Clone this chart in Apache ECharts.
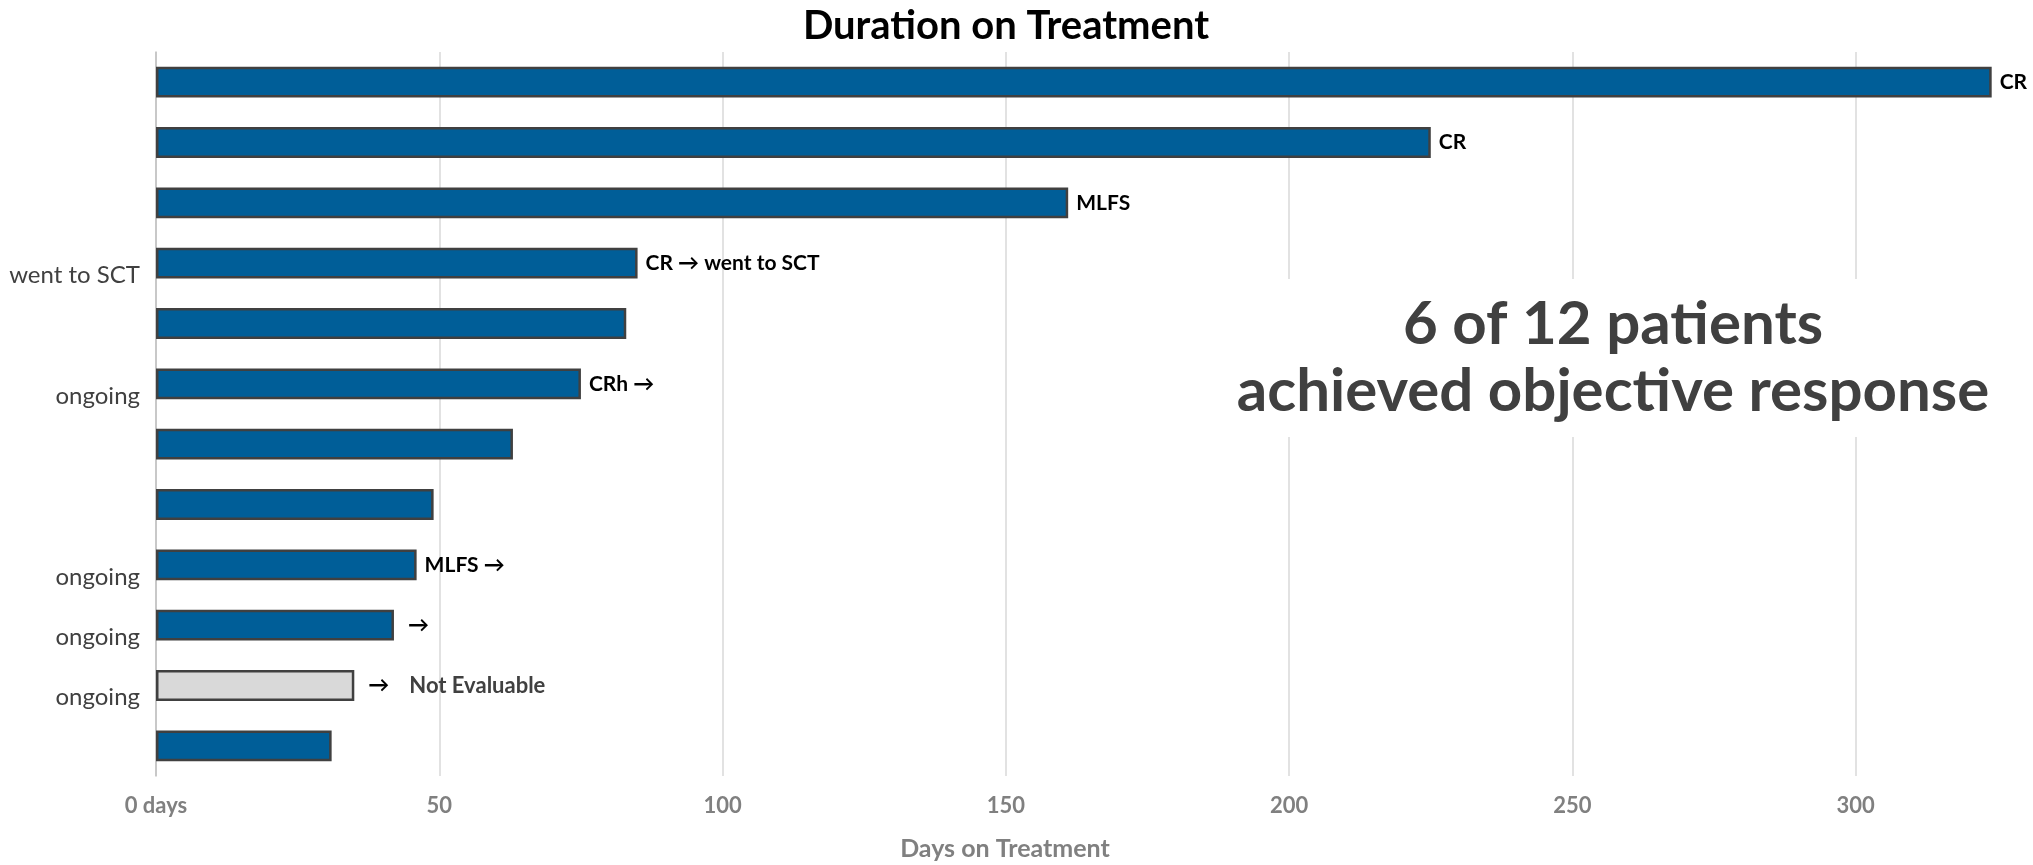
<!DOCTYPE html>
<html>
<head>
<meta charset="utf-8">
<script src="https://cdn.jsdelivr.net/npm/echarts@6/dist/echarts.min.js"></script>
<style>
  html, body { margin: 0; padding: 0; background: #fff; }
  #chart { width: 2033px; height: 865px; }
</style>
</head>
<body>
<div id="chart"></div>
<script>
// Patients, top to bottom
const patients = ['Pt 1', 'Pt 2', 'Pt 3', 'Pt 4', 'Pt 5', 'Pt 6', 'Pt 7', 'Pt 8', 'Pt 9', 'Pt 10', 'Pt 11', 'Pt 12'];
// Days on treatment per patient
const daysOnTreatment = [324, 225, 161, 85, 83, 75, 63, 49, 46, 42, 35, 31];
// Status shown to the left of each bar
const statusLabels = ['', '', '', 'went to SCT', '', 'ongoing', '', '', 'ongoing', 'ongoing', 'ongoing', ''];
// Response shown at the end of each bar
const responseLabels = ['CR', 'CR', 'MLFS', 'CR \u2192 went to SCT', '', 'CRh \u2192', '', '', 'MLFS \u2192', '\u2192', '\u2192', ''];
// Response evaluability
const evaluable = [true, true, true, true, true, true, true, true, true, true, false, true];
// Axis ticks
const xTicks = [0, 50, 100, 150, 200, 250, 300];
const xTickLabels = ['0 days', '50', '100', '150', '200', '250', '300'];

const FONT = 'Lato, "Open Sans", "DejaVu Sans", sans-serif';
const BLUE = '#005E98';
const GREY_FILL = '#D9D9D9';

const barData = daysOnTreatment.map((v, i) => {
  const lbl = responseLabels[i];
  const arrowOnly = lbl === '\u2192';
  return {
    value: v,
    itemStyle: { color: evaluable[i] ? BLUE : GREY_FILL },
    label: {
      show: lbl !== '',
      distance: arrowOnly ? 14 : 8,
      formatter: evaluable[i] ? lbl : '{a|' + lbl + '}{n|Not Evaluable}'
    }
  };
});

const chart = echarts.init(document.getElementById('chart'));
chart.setOption({
  animation: false,
  backgroundColor: '#ffffff',
  title: {
    text: 'Duration on Treatment',
    left: 1001,
    top: 1,
    textAlign: 'center',
    textStyle: { fontFamily: FONT, fontWeight: 'bold', fontSize: 40, color: '#000000' }
  },
  grid: {
    left: 156,
    right: -106,
    top: 52,
    bottom: 89,
    containLabel: false,
    outerBoundsMode: 'none'
  },
  xAxis: {
    type: 'value',
    min: 0,
    max: 350,
    interval: 50,
    axisLine: { show: false },
    axisTick: { show: false },
    axisLabel: {
      margin: 19,
      fontFamily: FONT, fontWeight: 'bold', fontSize: 22, color: '#808080',
      formatter: (v) => {
        const k = xTicks.indexOf(v);
        return k >= 0 ? xTickLabels[k] : '';
      }
    },
    splitLine: { show: true, lineStyle: { color: '#D9D9D9', width: 1.5 } }
  },
  yAxis: {
    type: 'category',
    inverse: true,
    data: patients,
    axisLine: { show: true, lineStyle: { color: '#BFBFBF', width: 1.5 } },
    axisTick: { show: false },
    axisLabel: {
      margin: 16,
      fontFamily: FONT, fontSize: 24, color: '#404040',
      verticalAlign: 'top',
      lineHeight: 24,
      formatter: (v, i) => statusLabels[i]
    }
  },
  series: [{
    type: 'bar',
    data: barData,
    barWidth: '51%',
    itemStyle: { borderColor: '#404040', borderWidth: 2.5 },
    label: {
      show: true,
      position: 'right',
      fontFamily: FONT, fontWeight: 'bold', fontSize: 21, color: '#000000',
      rich: {
        a: { fontFamily: FONT, fontWeight: 'bold', fontSize: 21, color: '#000000' },
        n: { fontFamily: FONT, fontWeight: 'bold', fontSize: 22, color: '#404040', padding: [0, 0, 0, 20] }
      }
    }
  }],
  graphic: [{
    type: 'text',
    z: 100,
    x: 1613,
    y: 358,
    style: {
      text: '6 of 12 patients\nachieved objective response',
      align: 'center',
      verticalAlign: 'middle',
      font: 'bold 60px ' + FONT,
      fill: '#404040',
      lineHeight: 67,
      backgroundColor: '#ffffff',
      padding: [12, 14]
    }
  }, {
    type: 'text',
    z: 100,
    x: 1005,
    y: 849,
    style: {
      text: 'Days on Treatment',
      align: 'center',
      verticalAlign: 'middle',
      font: 'bold 25px ' + FONT,
      fill: '#808080'
    }
  }]
});
</script>
</body>
</html>
